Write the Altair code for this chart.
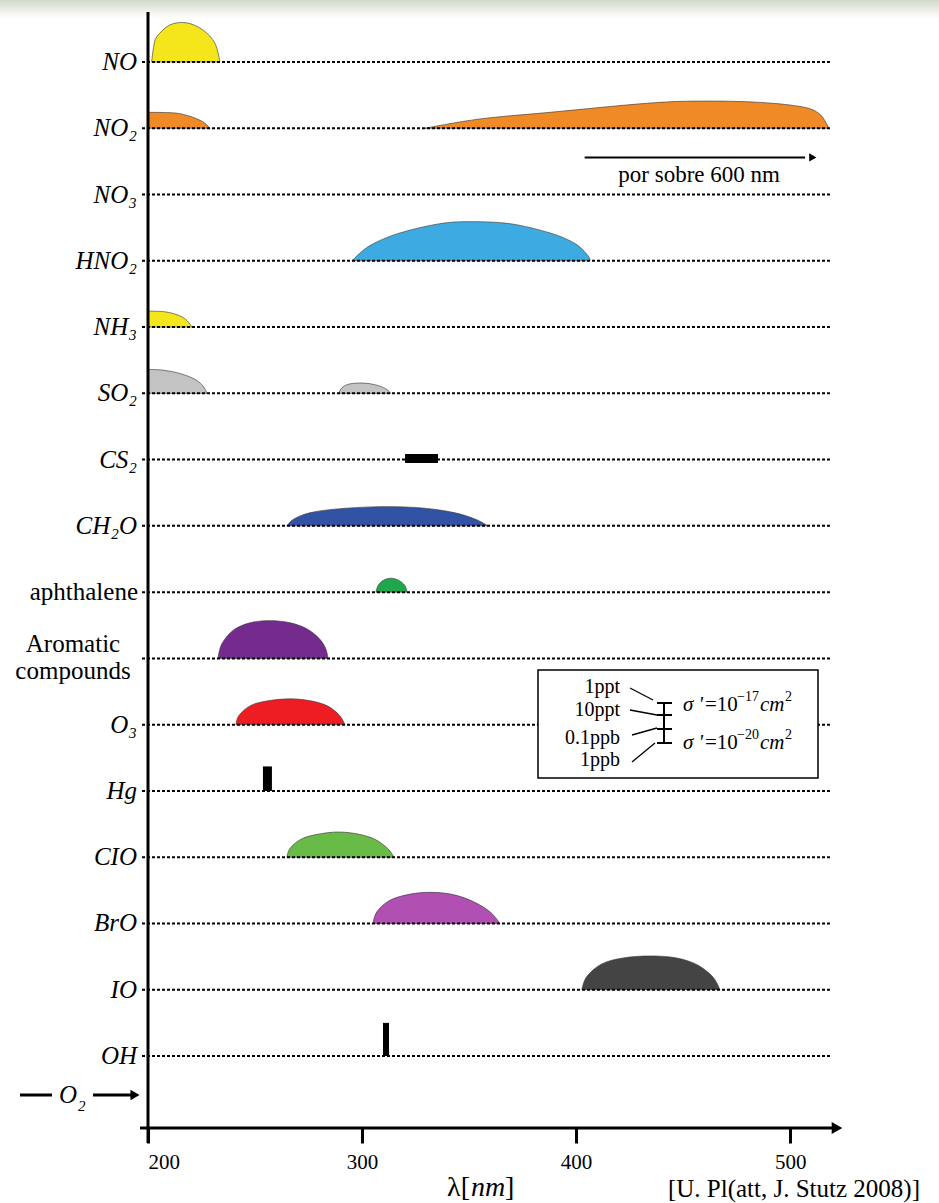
import altair as alt
import pandas as pd

# Species on the vertical list, top to bottom (row index = position in list)
SPECIES = ["NO", "NO₂", "NO₃", "HNO₂", "NH₃", "SO₂", "CS₂", "CH₂O",
           "aphthalene", "Aromatic\ncompounds", "O₃", "Hg", "CIO", "BrO", "IO", "OH"]
ITALIC_LABELS = ["NO", "NO₂", "NO₃", "HNO₂", "NH₃", "SO₂", "CS₂", "CH₂O",
                 "O₃", "Hg", "CIO", "BrO", "IO", "OH"]

# Absorption bands: wavelength (nm) and relative band strength (row units)
NO_NM = [201.7, 202.6, 204.1, 210.3, 218.1, 225.8, 231.3, 233.6]
NO_H = [0.0, 0.22, 0.38, 0.56, 0.59, 0.48, 0.28, 0.0]

NO2_UV_NM = [200.0, 212.6, 219.6, 224.3, 226.6, 229.0]
NO2_UV_H = [0.24, 0.23, 0.18, 0.12, 0.075, 0.0]

NO2_VIS_NM = [329.4, 355.1, 387.8, 434.5, 459.3, 485.9, 506.0, 513.9, 518.1]
NO2_VIS_H = [0.0, 0.14, 0.24, 0.38, 0.41, 0.39, 0.32, 0.21, 0.0]

HNO2_NM = [295.3, 303.7, 317.7, 336.4, 350.4, 369.1, 387.8, 399.5, 405.5, 406.5]
HNO2_H = [0.0, 0.23, 0.42, 0.56, 0.59, 0.56, 0.42, 0.26, 0.08, 0.0]

NH3_NM = [200.0, 207.9, 214.0, 217.8, 220.6]
NH3_H = [0.24, 0.23, 0.18, 0.11, 0.0]

SO2_UV_NM = [200.0, 207.0, 214.9, 222.0, 225.7, 227.6]
SO2_UV_H = [0.36, 0.35, 0.30, 0.21, 0.11, 0.0]

SO2_B_NM = [289.2, 290.5, 294.0, 300.4, 306.0, 311.0, 313.5]
SO2_B_H = [0.0, 0.08, 0.14, 0.155, 0.13, 0.07, 0.0]

CH2O_NM = [264.9, 268.0, 276.0, 290.0, 309.8, 328.0, 343.0, 353.0, 358.8]
CH2O_H = [0.0, 0.10, 0.20, 0.26, 0.29, 0.27, 0.20, 0.10, 0.0]

NAPH_NM = [306.5, 307.5, 310.0, 313.5, 317.0, 320.0, 321.0]
NAPH_H = [0.0, 0.10, 0.18, 0.21, 0.18, 0.10, 0.0]

AROM_NM = [232.7, 234.5, 240.0, 248.0, 257.0, 266.0, 274.0, 280.0, 283.0, 284.1]
AROM_H = [0.0, 0.22, 0.43, 0.54, 0.57, 0.54, 0.45, 0.30, 0.15, 0.0]

O3_NM = [241.1, 242.5, 248.0, 256.0, 266.3, 276.0, 284.0, 289.5, 292.0]
O3_H = [0.0, 0.14, 0.29, 0.36, 0.39, 0.36, 0.28, 0.14, 0.0]

CLO_NM = [264.9, 266.5, 272.0, 280.0, 288.8, 298.0, 306.0, 312.0, 314.9]
CLO_H = [0.0, 0.14, 0.28, 0.35, 0.38, 0.35, 0.27, 0.13, 0.0]

BRO_NM = [305.1, 307.0, 313.0, 322.0, 331.7, 342.0, 352.0, 360.0, 364.4]
BRO_H = [0.0, 0.18, 0.35, 0.44, 0.47, 0.44, 0.33, 0.17, 0.0]

IO_NM = [402.7, 405.0, 412.0, 422.0, 434.5, 447.0, 457.0, 464.0, 467.2]
IO_H = [0.0, 0.20, 0.39, 0.48, 0.51, 0.48, 0.37, 0.19, 0.0]

# Narrow lines: (species, nm start, nm end, strength top, strength bottom)
LINES = [
    ("CS₂", 320.1, 335.5, 0.085, -0.05),
    ("Hg", 253.7, 257.9, 0.37, 0.0),
    ("OH", 309.8, 312.6, 0.50, 0.0),
]

BANDS = [
    ("NO", "NO", NO_NM, NO_H, "#f4e61a"),
    ("NO2a", "NO₂", NO2_UV_NM, NO2_UV_H, "#f08a26"),
    ("NO2b", "NO₂", NO2_VIS_NM, NO2_VIS_H, "#f08a26"),
    ("HNO2", "HNO₂", HNO2_NM, HNO2_H, "#3eaae2"),
    ("NH3", "NH₃", NH3_NM, NH3_H, "#f4e61a"),
    ("SO2a", "SO₂", SO2_UV_NM, SO2_UV_H, "#c3c3c3"),
    ("SO2b", "SO₂", SO2_B_NM, SO2_B_H, "#c3c3c3"),
    ("CH2O", "CH₂O", CH2O_NM, CH2O_H, "#3253a5"),
    ("NAPH", "aphthalene", NAPH_NM, NAPH_H, "#1fa84b"),
    ("AROM", "Aromatic\ncompounds", AROM_NM, AROM_H, "#752a8e"),
    ("O3", "O₃", O3_NM, O3_H, "#ee1d24"),
    ("CLO", "CIO", CLO_NM, CLO_H, "#69bb47"),
    ("BRO", "BrO", BRO_NM, BRO_H, "#b24fb2"),
    ("IO", "IO", IO_NM, IO_H, "#444444"),
]

TICKS = [200, 300, 400, 500]
X_DOMAIN = [200, 524.7]
Y_DOMAIN = [-0.754, 16.086]
BASELINE_NM = [197.2, 518.6]
ARROW_NM = [404.0, 507.0, 510.6]
ARROW_ROW = 1.44
ARROW_TEXT = "por sobre 600 nm"
ARROW_TEXT_NM = 457.5
ARROW_TEXT_ROW = 1.70

PLOT_W, PLOT_H = 695, 1116
FONT = "Liberation Serif"

row_of = {name: i for i, name in enumerate(SPECIES)}

band_records = []
for band, sp, xs, hs, _ in BANDS:
    for x, h in zip(xs, hs):
        r = row_of[sp]
        band_records.append({"band": band, "nm": x, "row": r, "top": r - h})
band_df = pd.DataFrame(band_records)

lines_df = pd.DataFrame([
    {"nm0": a, "nm1": b, "top": row_of[sp] - t, "bot": row_of[sp] - bt}
    for sp, a, b, t, bt in LINES
])

base_df = pd.DataFrame({"row": list(range(len(SPECIES))),
                        "nm0": BASELINE_NM[0], "nm1": BASELINE_NM[1]})

label_df = pd.DataFrame({"row": list(range(len(SPECIES))), "label": SPECIES})

XS = alt.Scale(domain=X_DOMAIN, nice=False, zero=False)
YS = alt.Scale(domain=Y_DOMAIN, reverse=True, nice=False, zero=False)
XAXIS = alt.Axis(values=TICKS, domain=False, grid=False, tickSize=15, tickWidth=3,
                 tickColor="black", labelFont=FONT, labelFontSize=21,
                 labelFontStyle="normal", labelFontWeight="normal",
                 labelColor="black", labelPadding=8, title=None, format="d")


def X(field):
    return alt.X(field, type="quantitative", scale=XS, axis=XAXIS, title=None)


def Y(field):
    return alt.Y(field, type="quantitative", scale=YS, axis=None, title=None)


one = pd.DataFrame({"k": [0]})


def text_at(txt, x, y, size=20, style="normal", align="left", base="middle"):
    return alt.Chart(one).mark_text(
        text=txt, font=FONT, fontSize=size, fontStyle=style, color="black",
        align=align, baseline=base).encode(x=alt.value(x), y=alt.value(y))


def seg(x0, y0, x1, y1, w=2):
    return alt.Chart(one).mark_rule(color="black", strokeWidth=w).encode(
        x=alt.value(x0), y=alt.value(y0), x2=alt.value(x1), y2=alt.value(y1))


# faint header band
header = alt.Chart(one).mark_rect(
    color=alt.Gradient(gradient="linear",
                       stops=[alt.GradientStop(color="#d2dacb", offset=0),
                              alt.GradientStop(color="#ffffff", offset=1)],
                       x1=0, x2=0, y1=0, y2=1)
).encode(x=alt.value(-148), x2=alt.value(791), y=alt.value(-12), y2=alt.value(6))

bands = alt.Chart(band_df).mark_area(
    interpolate="cardinal", stroke="#3a3a3a", strokeWidth=0.8, strokeOpacity=0.8
).encode(
    x=X("nm"), y=Y("top"), y2="row:Q",
    color=alt.Color("band:N", legend=None,
                    scale=alt.Scale(domain=[b[0] for b in BANDS],
                                    range=[b[4] for b in BANDS])),
)

bars = alt.Chart(lines_df).mark_rect(color="black").encode(
    x=X("nm0"), x2="nm1:Q", y=Y("top"), y2="bot:Q"
)

baselines = alt.Chart(base_df).mark_rule(
    color="black", strokeWidth=2, strokeDash=[3, 2]
).encode(x=X("nm0"), x2="nm1:Q", y=Y("row"))

italic_labels = alt.Chart(label_df).transform_filter(
    alt.FieldOneOfPredicate(field="label", oneOf=ITALIC_LABELS)
).mark_text(align="right", baseline="middle", font=FONT, fontSize=25,
            fontStyle="italic", color="black").encode(
    x=alt.value(-11), y=Y("row"), text="label:N")

plain_labels = alt.Chart(label_df).transform_filter(
    alt.datum.label == "aphthalene"
).mark_text(align="right", baseline="middle", font=FONT, fontSize=25,
            fontStyle="normal", color="black").encode(
    x=alt.value(-10), y=Y("row"), text="label:N")

multi_labels = alt.Chart(label_df).transform_filter(
    alt.datum.label == "Aromatic\ncompounds"
).mark_text(align="center", baseline="middle", font=FONT, fontSize=25,
            fontStyle="normal", lineBreak="\n", lineHeight=27, dy=-14,
            color="black").encode(
    x=alt.value(-75), y=Y("row"), text="label:N")

# axes drawn as plain strokes
y_axis_line = seg(0, 0, 0, 1131, 3)
x_axis_line = seg(-8, PLOT_H, 686, PLOT_H, 3)
x_axis_head = alt.Chart(one).mark_point(
    shape="triangle-right", filled=True, size=150, color="black", opacity=1
).encode(x=alt.value(689), y=alt.value(PLOT_H))

# visible-band arrow of NO2
arrow_df = pd.DataFrame({"nm0": [ARROW_NM[0]], "nm1": [ARROW_NM[1]],
                         "tip": [ARROW_NM[2]], "row": [ARROW_ROW],
                         "tx": [ARROW_TEXT_NM], "trow": [ARROW_TEXT_ROW],
                         "text": [ARROW_TEXT]})
arrow_line = alt.Chart(arrow_df).mark_rule(color="black", strokeWidth=2).encode(
    x=X("nm0"), x2="nm1:Q", y=Y("row"))
arrow_head = alt.Chart(arrow_df).mark_point(
    shape="triangle-right", filled=True, size=70, color="black", opacity=1
).encode(x=X("tip"), y=Y("row"))
arrow_text = alt.Chart(arrow_df).mark_text(
    font=FONT, fontSize=23, fontStyle="normal", color="black", baseline="middle"
).encode(x=X("tx"), y=Y("trow"), text="text:N")

# O2 marker below the list
o2_left = seg(-128, 1083, -96, 1083, 3)
o2_text = text_at("O", -80, 1083, size=25, style="italic", align="center")
o2_sub = text_at("2", -70, 1094, size=15, style="italic", align="left")
o2_arrow = seg(-55, 1083, -16, 1083, 3)
o2_head = alt.Chart(one).mark_point(
    shape="triangle-right", filled=True, size=110, color="black", opacity=1
).encode(x=alt.value(-13), y=alt.value(1083))

# detection-limit key
key_box = alt.Chart(one).mark_rect(
    fill="white", stroke="black", strokeWidth=1.5).encode(
    x=alt.value(390), x2=alt.value(670), y=alt.value(658), y2=alt.value(766))

KEY_TEXTS = [("1ppt", 675), ("10ppt", 698), ("0.1ppb", 726), ("1ppb", 748)]
KEY_LEADERS = [(482, 676, 505, 688), (482, 698, 509, 703),
               (484, 723, 509, 716), (484, 750, 507, 731)]
KEY_CAPS = [691, 703, 717, 731]
SIGMA_ROWS = [("−17", 693), ("−20", 731)]

key_layers = [key_box]
for txt, yy in KEY_TEXTS:
    key_layers.append(text_at(txt, 472, yy, size=20, align="right"))
for x0, y0, x1, y1 in KEY_LEADERS:
    key_layers.append(seg(x0, y0, x1, y1, 1.3))
key_layers.append(seg(516, 691, 516, 731, 2))
for yy in KEY_CAPS:
    key_layers.append(seg(509, yy, 524, yy, 2))
for exp, yy in SIGMA_ROWS:
    key_layers += [
        text_at("σ '", 535, yy, size=21, style="italic"),
        text_at("=10", 557, yy, size=21),
        text_at(exp, 589, yy - 8, size=14),
        text_at("cm", 612, yy, size=21, style="italic"),
        text_at("2", 637, yy - 8, size=14),
    ]

# axis title and source
title_a = text_at("λ[", 322, 1184, size=28, align="right", base="alphabetic")
title_b = text_at("nm", 323, 1184, size=28, style="italic", base="alphabetic")
title_c = text_at("]", 357, 1184, size=28, base="alphabetic")
source = text_at("[U. Pl(att, J. Stutz 2008)]", 772, 1185, size=25,
                 align="right", base="alphabetic")

chart = alt.layer(
    header, bands, bars, baselines, *key_layers,
    italic_labels, plain_labels, multi_labels,
    y_axis_line, x_axis_line, x_axis_head,
    arrow_line, arrow_head, arrow_text,
    o2_left, o2_text, o2_sub, o2_arrow, o2_head,
    title_a, title_b, title_c, source,
).properties(
    width=PLOT_W, height=PLOT_H,
    autosize=alt.AutoSizeParams(type="none"),
    padding={"left": 148, "top": 12, "right": 939 - 148 - PLOT_W,
             "bottom": 1203 - 12 - PLOT_H},
    background="white",
).configure_view(stroke=None)

chart.save("out.html", embed_options={"renderer": "svg", "actions": False})
